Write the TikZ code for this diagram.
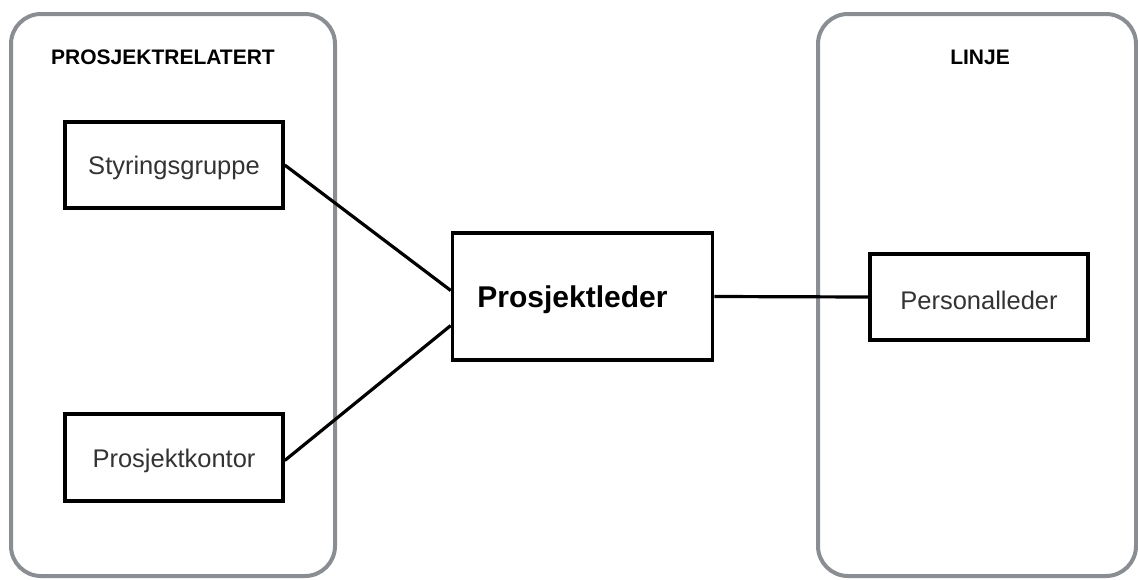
\documentclass[tikz,border=0pt]{standalone}
\usepackage{fontspec}
\setmainfont{Liberation Sans}
\newcommand{\lowered}[1]{\raisebox{-3pt}[\height][\depth]{#1}}
\begin{document}
\begin{tikzpicture}[x=1pt,y=-1pt,
  container/.style={draw=frame,line width=4pt,rounded corners=30pt},
  unit/.style={draw=black,line width=3.5pt,fill=white,inner sep=0pt,text=labelgray,font=\fontsize{25.5}{30}\selectfont},
  heading/.style={font=\bfseries\fontsize{21}{25}\selectfont,text=black},
  link/.style={draw=black,line width=3.2pt}]
\definecolor{frame}{HTML}{8A8E93}
\definecolor{labelgray}{HTML}{333333}
\useasboundingbox (0,0) rectangle (1138,579);
% group frames
\draw[container] (11,14) rectangle (335,576);
\draw[container] (818,14) rectangle (1136,576);
\node[heading] (tleft) at (163,57) {PROSJEKTRELATERT};
\node[heading] (tright) at (980,57) {LINJE};
% boxes (labels sit slightly below centre)
\node[unit,minimum width=218pt,minimum height=86pt] (styr) at (174,165) {\lowered{Styringsgruppe}};
\node[unit,minimum width=218pt,minimum height=87pt] (kontor) at (174,457.5) {\lowered{Prosjektkontor}};
\node[unit,minimum width=260pt,minimum height=127pt,text=black,font=\bfseries\fontsize{30}{36}\selectfont] (leder) at (582.5,296.5) {\lowered{Prosjektleder}\hspace*{20pt}};
\node[unit,minimum width=218pt,minimum height=86pt] (pers) at (979,297) {\lowered{Personalleder}};
% connectors
\coordinate (lin1) at ([yshift=6pt]leder.west);
\coordinate (lin2) at ([yshift=-29pt]leder.west);
\draw[link] (styr.east) -- (lin1);
\draw[link] ([yshift=-3pt]kontor.east) -- (lin2);
\draw[link] (leder.east) -- (pers.west);
\end{tikzpicture}
\end{document}
